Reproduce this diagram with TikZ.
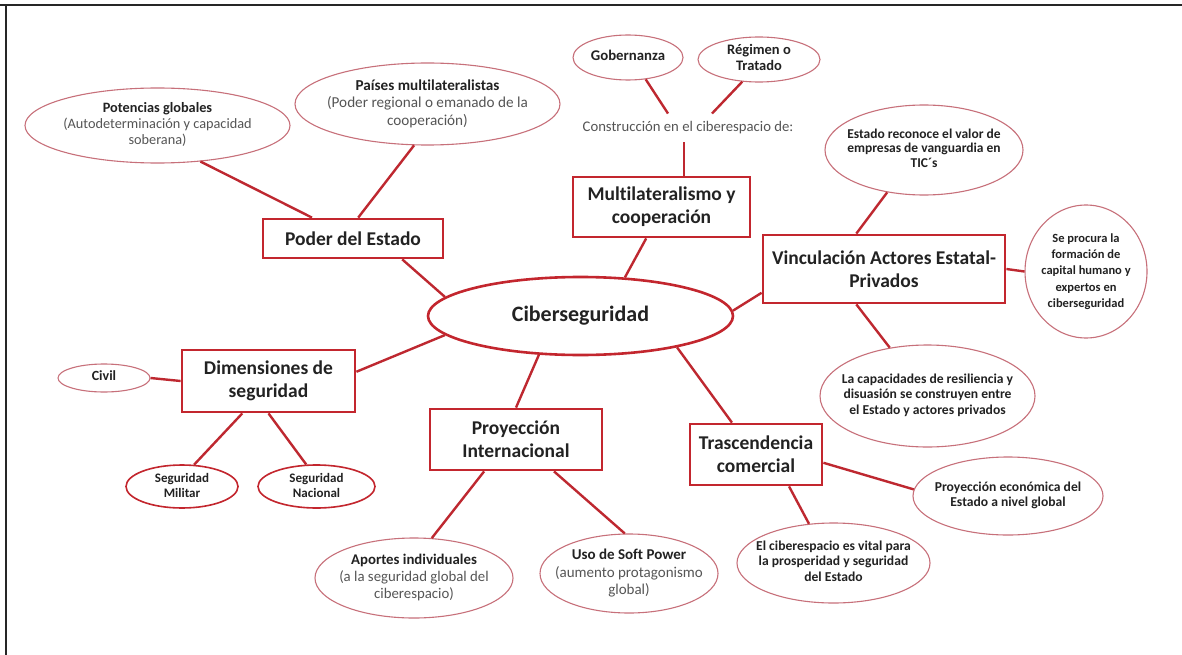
\documentclass[tikz,border=0pt]{standalone}
\usepackage{fontspec}
\setmainfont{Carlito}[Ligatures=CommonOff]
\usetikzlibrary{shapes.geometric}
\definecolor{boxred}{HTML}{C3262E}
\definecolor{lnred}{HTML}{BE2830}
\definecolor{elred}{HTML}{C7707A}
\definecolor{txtgray}{HTML}{555555}
\definecolor{txtdark}{HTML}{222222}
\newcommand\ellt[1]{\makebox[0pt]{\raisebox{-0.25em}[0pt][0pt]{\begin{tabular}{@{}c@{}}#1\end{tabular}}}}
\tikzset{
  hub/.style={ellipse, draw=boxred, line width=2.6pt, fill=white, minimum width=305pt, minimum height=78pt, inner sep=0pt, text=txtdark, font=\fontsize{22}{26}\selectfont\bfseries},
  topic/.style={rectangle, draw=boxred, line width=2.8pt, fill=white, inner sep=2pt, align=center, text=txtdark, font=\fontsize{19.5}{23}\selectfont\bfseries},
  leaf/.style={ellipse, draw=elred, line width=1.1pt, fill=white, inner sep=0pt, text=txtdark},
  link/.style={draw=lnred, line width=2.4pt},
  plain/.style={text=txtgray, inner ysep=8pt, font=\fontsize{14.7}{17}\selectfont},
}
\begin{document}
\begin{tikzpicture}[x=1pt,y=-1pt]
\useasboundingbox (0,0) rectangle (1182,655);
\fill[white] (0,0) rectangle (1182,655);
\draw[line width=2pt, black!85] (0,5.5) -- (1182,5.5);
\draw[line width=2pt, black!85] (6,5) -- (6,655);

% hub and topics
\node[hub] (hub) at (580.5,316) {Ciberseguridad};
\node[topic, minimum width=180pt, minimum height=39pt] (poder) at (353,238.5) {Poder del Estado};
\node[topic, minimum width=177pt, minimum height=60pt] (multi) at (661.5,207) {Multilateralismo y\\cooperación};
\node[topic, minimum width=242pt, minimum height=68pt] (vin) at (884,269) {Vinculación Actores Estatal-\\Privados};
\node[topic, minimum width=173pt, minimum height=62pt] (dim) at (268.5,381) {Dimensiones de\\seguridad};
\node[topic, minimum width=172pt, minimum height=61pt] (pro) at (516,439.5) {Proyección\\Internacional};
\node[topic, minimum width=132pt, minimum height=61pt] (tra) at (756,454.5) {Trascendencia\\comercial};

% leaves
\node[leaf, minimum width=265pt, minimum height=75pt, font=\fontsize{14.3}{16}\selectfont] (pot) at (157.5,125.5)
  {\ellt{\textbf{Potencias globales}\\\textcolor{txtgray}{(Autodeterminación y capacidad}\\\textcolor{txtgray}{soberana)}}};
\node[leaf, minimum width=265pt, minimum height=82pt, font=\fontsize{15.2}{17.6}\selectfont] (pai) at (427.5,104)
  {\ellt{\textbf{Países multilateralistas}\\\textcolor{txtgray}{(Poder regional o emanado de la}\\\textcolor{txtgray}{cooperación)}}};
\node[leaf, minimum width=110pt, minimum height=45pt, font=\fontsize{14.8}{16}\selectfont\bfseries] (gob) at (628,57.5)
  {\ellt{Gobernanza}};
\node[leaf, minimum width=122pt, minimum height=45pt, font=\fontsize{14.5}{16}\selectfont\bfseries] (reg) at (759,59.5)
  {\ellt{Régimen o\\Tratado}};
\node[plain] (con) at (688,128) {Construcción en el ciberespacio de:};
\node[leaf, minimum width=198pt, minimum height=90pt, font=\fontsize{13.5}{14.7}\selectfont\bfseries] (est) at (924,150)
  {\ellt{Estado reconoce el valor de\\empresas de vanguardia en\\TIC´s}};
\node[leaf, minimum width=122pt, minimum height=133pt, font=\fontsize{12.5}{16.3}\selectfont\bfseries] (sep) at (1086,271.5)
  {\ellt{Se procura la\\formación de\\capital humano y\\expertos en\\ciberseguridad}};
\node[leaf, minimum width=215pt, minimum height=102pt, font=\fontsize{13.6}{15.4}\selectfont\bfseries] (cap) at (927.5,396)
  {\ellt{La capacidades de resiliencia y\\disuasión se construyen entre\\el Estado y actores privados}};
\node[leaf, minimum width=190pt, minimum height=78pt, font=\fontsize{13.6}{15.4}\selectfont\bfseries] (eco) at (1008,496)
  {\ellt{Proyección económica del\\Estado a nivel global}};
\node[leaf, minimum width=193pt, minimum height=80pt, font=\fontsize{13.6}{15.8}\selectfont\bfseries] (vit) at (833.5,563)
  {\ellt{El ciberespacio es vital para\\la prosperidad y seguridad\\del Estado}};
\node[leaf, minimum width=92pt, minimum height=28pt, font=\fontsize{14}{15}\selectfont\bfseries] (civ) at (104,378)
  {\ellt{Civil}};
\node[leaf, draw=boxred, line width=1.6pt, minimum width=112pt, minimum height=43pt, font=\fontsize{13}{15.5}\selectfont\bfseries] (mil) at (182,486.5)
  {\ellt{Seguridad\\Militar}};
\node[leaf, draw=boxred, line width=1.6pt, minimum width=117pt, minimum height=43pt, font=\fontsize{13}{15.5}\selectfont\bfseries] (nac) at (316.5,486.5)
  {\ellt{Seguridad\\Nacional}};
\node[leaf, minimum width=198pt, minimum height=80pt, font=\fontsize{14.8}{17.3}\selectfont] (apo) at (414,578)
  {\ellt{\textbf{Aportes individuales}\\\textcolor{txtgray}{(a la seguridad global del}\\\textcolor{txtgray}{ciberespacio)}}};
\node[leaf, minimum width=178pt, minimum height=79pt, font=\fontsize{15}{17.3}\selectfont] (uso) at (629,573.5)
  {\ellt{\textbf{Uso de Soft Power}\\\textcolor{txtgray}{(aumento protagonismo}\\\textcolor{txtgray}{global)}}};

% connectors
\draw[link] (pot.-40) -- (poder.153);
\draw[link] (pai.-108) -- (poder.76);
\draw[link] (poder.-23) -- (hub.172);
\draw[link] (multi.-116) -- (hub.41);
\draw[link] (gob.-51) -- ([xshift=-20pt]con.north);
\draw[link] (reg.-127) -- ([xshift=24pt]con.north);
\draw[link] ([xshift=-4pt]con.south) -- ([xshift=-4pt]con.south |- multi.north);
\draw[link] (vin.-169) -- (hub.2);
\draw[link] (est.-131) -- (vin.128);
\draw[link] (vin.east) -- (sep.west);
\draw[link] (vin.-128) -- (cap.128);
\draw[link] (hub.188) -- (dim.6);
\draw[link] (civ.east) -- (dim.west);
\draw[link] (dim.-129) -- (mil.61);
\draw[link] (dim.south) -- (nac.115);
\draw[link] (hub.-137) -- (pro.north);
\draw[link] (pro.-135) -- (apo.66);
\draw[link] (pro.-40) -- (uso.96);
\draw[link] (hub.-18) -- (tra.127);
\draw[link] (tra.-7) -- (eco.176);
\draw[link] (tra.-44) -- (vit.122);
\end{tikzpicture}
\end{document}
